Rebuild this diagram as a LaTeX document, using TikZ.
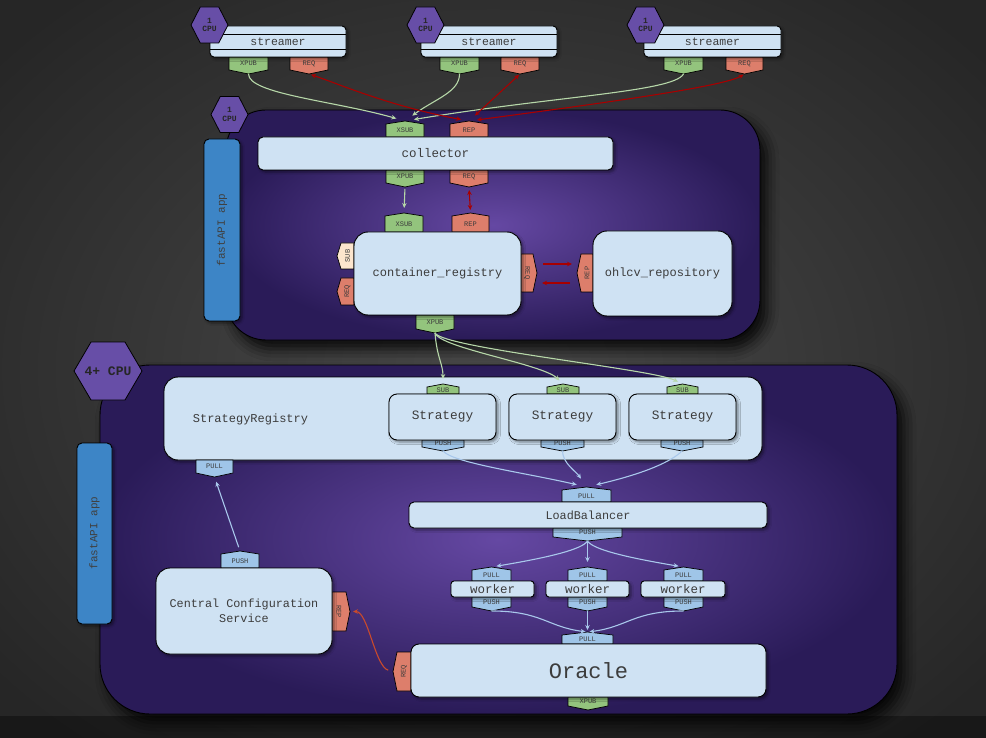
\documentclass[tikz,border=0pt]{standalone}
\usepackage{fontspec}
\newfontfamily\mono{Liberation Mono}
\usetikzlibrary{arrows.meta,shadows.blur}
\definecolor{bgIn}{HTML}{4A4A4A}
\definecolor{bgOut}{HTML}{262626}
\definecolor{panIn}{HTML}{6548A3}
\definecolor{panOut}{HTML}{2A1B58}
\definecolor{boxfill}{HTML}{CFE2F3}
\definecolor{txtgray}{HTML}{3C3C3C}
\definecolor{tgreen}{HTML}{93C47D}
\definecolor{tred}{HTML}{DD7E6B}
\definecolor{tblue}{HTML}{9FC5E8}
\definecolor{tpeach}{HTML}{FCE5CD}
\definecolor{hexfill}{HTML}{674EA7}
\definecolor{apiblue}{HTML}{3D85C6}
\definecolor{lgreen}{HTML}{B6D7A8}
\definecolor{lblue}{HTML}{A9C8EC}
\definecolor{lred}{HTML}{A80000}
\definecolor{lorange}{HTML}{C94A2C}
\tikzset{
  tabline/.style={draw=black, line width=0.7pt},
  tabtext/.style={font=\mono\fontsize{7}{7}\selectfont, text=txtgray, inner sep=0pt},
  box/.style={draw=black, line width=0.9pt, fill=boxfill, inner sep=0pt, align=center,
    text=txtgray, font=\mono\fontsize{12}{15}\selectfont,
    blur shadow={shadow xshift=2pt,shadow yshift=-2pt,shadow blur radius=2.5pt,shadow opacity=45}},
  panel/.style={draw=black, line width=0.9pt, inner color=panIn, outer color=panOut,
    blur shadow={shadow xshift=7pt,shadow yshift=-9pt,shadow blur radius=12pt,shadow opacity=85}},
  hexshape/.style={draw=black, line width=0.8pt, fill=hexfill},
  hextext/.style={font=\mono\bfseries\fontsize{8}{8.5}\selectfont, text=black!85, align=center, inner sep=0pt},
  apibar/.style={draw=black, line width=0.9pt, fill=apiblue, rounded corners=5pt,
    blur shadow={shadow xshift=2pt,shadow yshift=-2pt,shadow blur radius=2.5pt,shadow opacity=45}},
  apitext/.style={font=\mono\fontsize{11}{11}\selectfont, text=black!75, rotate=90, inner sep=0pt},
  tipA/.style={-{Stealth[length=5pt,width=4.5pt]}},
  tipB/.style={{Stealth[length=5pt,width=4.5pt]}-{Stealth[length=5pt,width=4.5pt]}},
  gline/.style={draw=lgreen, line width=1.1pt, tipA},
  bline/.style={draw=lblue, line width=1.1pt, tipA},
  rline/.style={draw=lred, line width=1.1pt, tipB},
  rone/.style={draw=lred, line width=1.1pt, tipA},
  oline/.style={draw=lorange, line width=1.1pt, tipA},
}
% tab pointing down: name, xl, xr, ytop, ytip, colour, label
\newcommand\tabdn[7]{%
  \filldraw[tabline, fill=#6] (#2,#4) -- (#3,#4) -- (#3,{#5-4}) -- ({(#2+#3)/2},#5) -- (#2,{#5-4}) -- cycle;
  \node[tabtext] (#1) at ({(#2+#3)/2},{(#4+#5-4)/2}) {#7};
  \coordinate (#1-tip) at ({(#2+#3)/2},#5);}
% tab pointing up: name, xl, xr, ytip, ybottom, colour, label
\newcommand\tabup[7]{%
  \filldraw[tabline, fill=#6] (#2,#5) -- (#2,{#4+3}) -- ({(#2+#3)/2},#4) -- (#3,{#4+3}) -- (#3,#5) -- cycle;
  \node[tabtext] (#1) at ({(#2+#3)/2},{(#4+3+#5)/2}) {#7};
  \coordinate (#1-tip) at ({(#2+#3)/2},#4);}
% tab pointing left: name, xtip, xright, ytop, ybottom, colour, label
\newcommand\tablf[7]{%
  \filldraw[tabline, fill=#6] (#3,#4) -- ({#2+4},#4) -- (#2,{(#4+#5)/2}) -- ({#2+4},#5) -- (#3,#5) -- cycle;
  \node[tabtext, rotate=90] (#1) at ({(#2+4+#3)/2},{(#4+#5)/2}) {#7};
  \coordinate (#1-tip) at (#2,{(#4+#5)/2});}
% tab pointing right: name, xleft, xtip, ytop, ybottom, colour, label
\newcommand\tabrt[7]{%
  \filldraw[tabline, fill=#6] (#2,#4) -- ({#3-4},#4) -- (#3,{(#4+#5)/2}) -- ({#3-4},#5) -- (#2,#5) -- cycle;
  \node[tabtext, rotate=-90] (#1) at ({(#2+#3-4)/2},{(#4+#5)/2}) {#7};
  \coordinate (#1-tip) at (#3,{(#4+#5)/2});}
% box: name, x1, y1, x2, y2, options, text
\newcommand\bx[7]{%
  \node[box, #6, minimum width={(#4-#2)*1pt}, minimum height={(#5-#3)*1pt}] (#1) at ({(#2+#4)/2},{(#3+#5)/2}) {#7};}
% hexagon: name, cx, cy, w, h, text, extra text options
\newcommand\hexa[7]{%
  \filldraw[hexshape] ({#2-#4/2},#3) -- ({#2-#4/4},{#3-#5/2}) -- ({#2+#4/4},{#3-#5/2}) -- ({#2+#4/2},#3) -- ({#2+#4/4},{#3+#5/2}) -- ({#2-#4/4},{#3+#5/2}) -- cycle;
  \node[hextext, #7] (#1) at (#2,#3) {#6};}
\begin{document}
\begin{tikzpicture}[x=1pt,y=-1pt]
\useasboundingbox (0,0) rectangle (986,738);
\shade[inner color=bgIn, outer color=bgOut] (-150,-120) rectangle (1136,858);
\fill[black, opacity=0.35] (0,716) rectangle (986,738);

% ---------- panels ----------
\path[panel, rounded corners=40pt] (226,110) rectangle (760,340);
\path[panel, rounded corners=50pt] (100,365) rectangle (897,714);

% ---------- streamers ----------
\tabdn{s1x}{229}{268}{57}{74}{tgreen}{XPUB}
\tabdn{s1r}{290}{328}{57}{74}{tred}{REQ}
\tabdn{s2x}{440}{479}{57}{74}{tgreen}{XPUB}
\tabdn{s2r}{501}{539}{57}{74}{tred}{REQ}
\tabdn{s3x}{664}{703}{57}{74}{tgreen}{XPUB}
\tabdn{s3r}{726}{763}{57}{74}{tred}{REQ}
\bx{s1}{210}{26}{346}{57}{rounded corners=4pt, font=\mono\fontsize{11.5}{12}\selectfont}{streamer}
\bx{s2}{421}{26}{557}{57}{rounded corners=4pt, font=\mono\fontsize{11.5}{12}\selectfont}{streamer}
\bx{s3}{644}{26}{781}{57}{rounded corners=4pt, font=\mono\fontsize{11.5}{12}\selectfont}{streamer}
\foreach \n in {s1,s2,s3}{
  \draw[line width=0.9pt] (\n.west |- 0,34) -- (\n.east |- 0,34);
  \draw[line width=0.9pt] (\n.west |- 0,49) -- (\n.east |- 0,49);
}
\hexa{h1}{209.5}{25}{37}{36}{1\\CPU}{}
\hexa{h2}{425.5}{25}{37}{36}{1\\CPU}{}
\hexa{h3}{645.5}{25}{37}{36}{1\\CPU}{}

% ---------- upper service ----------
\hexa{h4}{229.5}{114.5}{37}{36}{1\\CPU}{}
\path[apibar] (204,139) rectangle (240,321);
\node[apitext] (api1) at (222,230) {fastAPI app};

\tabup{cxs}{386}{424}{121}{137}{tgreen}{XSUB}
\tabup{crp}{450}{488}{121}{137}{tred}{REP}
\tabdn{cxp}{386}{424}{170}{187}{tgreen}{XPUB}
\tabdn{crq}{450}{488}{170}{187}{tred}{REQ}
\bx{col}{258}{137}{613}{170}{rounded corners=5pt, font=\mono\fontsize{12.5}{13}\selectfont}{collector}

\tabup{rxs}{385}{423}{213}{232}{tgreen}{XSUB}
\tabup{rrp}{452}{489}{213}{232}{tred}{REP}
\tablf{rsub}{337}{354}{243}{269}{tpeach}{SUB}
\tablf{rreqL}{337}{354}{278}{305}{tred}{REQ}
\tabrt{rreqR}{521}{537}{254}{292}{tred}{REQ}
\tabdn{rxp}{416}{454}{315}{333}{tgreen}{XPUB}
\bx{reg}{354}{232}{521}{315}{rounded corners=14pt}{container\_registry}

\tablf{orep}{577}{593}{254}{292}{tred}{REP}
\bx{ohlcv}{593}{231}{732}{316}{rounded corners=14pt}{ohlcv\_repository}

% ---------- lower service ----------
\path[apibar] (77,443) rectangle (112,624);
\node[apitext] (api2) at (94.5,533) {fastAPI app};

\bx{sreg}{164}{377}{762}{460}{rounded corners=14pt}{}
\node[font=\mono\fontsize{12}{12}\selectfont, text=txtgray, inner sep=0pt] (sregt) at (250.5,419) {StrategyRegistry};
\tabdn{spull}{196}{233}{460}{477}{tblue}{PULL}

\tabup{sub1}{427}{459}{384}{394}{tgreen}{SUB}
\tabup{sub2}{547}{579}{384}{394}{tgreen}{SUB}
\tabup{sub3}{667}{698}{384}{394}{tgreen}{SUB}
\tabdn{sp1}{422}{464}{440}{451}{tblue}{PUSH}
\tabdn{sp2}{541}{584}{440}{451}{tblue}{PUSH}
\tabdn{sp3}{661}{703}{440}{451}{tblue}{PUSH}
\bx{st1}{389}{394}{496}{440}{rounded corners=8pt, font=\mono\fontsize{12.8}{13}\selectfont}{Strategy}
\bx{st2}{509}{394}{616}{440}{rounded corners=8pt, font=\mono\fontsize{12.8}{13}\selectfont}{Strategy}
\bx{st3}{629}{394}{736}{440}{rounded corners=8pt, font=\mono\fontsize{12.8}{13}\selectfont}{Strategy}

\tabup{lpull}{562}{611}{487}{502}{tblue}{PULL}
\tabdn{lpush}{553}{622}{528}{541}{tblue}{PUSH}
\bx{lb}{409}{502}{767}{528}{rounded corners=5pt, font=\mono\fontsize{11.8}{12}\selectfont}{LoadBalancer}

\tabup{wl1}{472}{511}{567}{581}{tblue}{PULL}
\tabup{wl2}{568}{607}{567}{581}{tblue}{PULL}
\tabup{wl3}{664}{703}{567}{581}{tblue}{PULL}
\tabdn{wp1}{472}{511}{597}{611}{tblue}{PUSH}
\tabdn{wp2}{568}{607}{597}{611}{tblue}{PUSH}
\tabdn{wp3}{664}{703}{597}{611}{tblue}{PUSH}
\bx{w1}{451}{581}{534}{597}{rounded corners=3pt, font=\mono\fontsize{12.5}{13}\selectfont}{worker}
\bx{w2}{546}{581}{629}{597}{rounded corners=3pt, font=\mono\fontsize{12.5}{13}\selectfont}{worker}
\bx{w3}{641}{581}{725}{597}{rounded corners=3pt, font=\mono\fontsize{12.5}{13}\selectfont}{worker}

\tabup{opull}{562}{613}{632}{644}{tblue}{PULL}
\tabdn{oxp}{568}{608}{697}{710}{tgreen}{XPUB}
\tablf{oreq}{393}{411}{652}{691}{tred}{REQ}
\bx{orc}{411}{644}{766}{697}{rounded corners=8pt, font=\mono\fontsize{22}{22}\selectfont}{Oracle}

\tabup{cpush}{221}{259}{551}{568}{tblue}{PUSH}
\tabrt{crep}{332}{350}{592}{631}{tred}{REP}
\bx{ccs}{156}{568}{332}{654}{rounded corners=14pt, font=\mono\fontsize{11.8}{14.5}\selectfont}{Central Configuration\\Service}

\hexa{h5}{108}{371}{68}{58}{4+ CPU}{font=\mono\bfseries\fontsize{13}{13}\selectfont}

% ---------- connectors ----------
\draw[gline, shorten >=9pt] (s1x-tip) .. controls +(0,20) and +(-70,-20) .. (cxs-tip);
\draw[gline, shorten >=9pt] (s2x-tip) .. controls +(0,18) and +(30,-22) .. (cxs-tip);
\draw[gline, shorten >=9pt] (s3x-tip) .. controls +(-10,18) and +(150,-25) .. (cxs-tip);
\draw[rline, shorten <=2pt, shorten >=8pt] (s1r-tip) .. controls +(30,10) and +(-80,-15) .. (crp-tip);
\draw[rline, shorten <=1pt, shorten >=8pt] (s2r-tip) -- (crp-tip);
\draw[rline, shorten <=1pt, shorten >=8pt] (s3r-tip) .. controls +(-20,12) and +(150,-20) .. (crp-tip);

\draw[gline, shorten <=2pt, shorten >=5pt] (cxp-tip) -- (rxs-tip);
\draw[rline, shorten <=3pt, shorten >=3pt] (crq-tip) -- (rrp-tip);
\draw[rone] ([xshift=6pt,yshift=9pt]rreqR-tip) -- ([xshift=-5pt,yshift=9pt]orep-tip);
\draw[rone] ([xshift=-7pt,yshift=-10pt]orep-tip) -- ([xshift=5pt,yshift=-10pt]rreqR-tip);

\draw[gline, shorten >=5pt] (rxp-tip) .. controls +(2,25) and +(0,-20) .. (sub1-tip);
\draw[gline, shorten >=5pt] (rxp-tip) .. controls +(5,15) and +(-20,-20) .. (sub2-tip);
\draw[gline, shorten >=5pt] (rxp-tip) .. controls +(8,15) and +(-30,-15) .. (sub3-tip);

\draw[bline, shorten >=10pt] (sp1-tip) .. controls +(10,12) and +(-60,-14) .. (lpull-tip);
\draw[bline, shorten >=10pt] (sp2-tip) .. controls +(0,12) and +(-10,-15) .. (lpull-tip);
\draw[bline, shorten >=10pt] (sp3-tip) .. controls +(-10,10) and +(60,-14) .. (lpull-tip);

\draw[bline, shorten >=5pt] (lpush-tip) .. controls +(-5,8) and +(60,-10) .. (wl1-tip);
\draw[bline, shorten >=5pt] (lpush-tip) -- (wl2-tip);
\draw[bline, shorten >=5pt] (lpush-tip) .. controls +(5,8) and +(-60,-10) .. (wl3-tip);

\draw[bline, shorten >=2pt] (wp1-tip) .. controls +(50,0) and +(-40,-5) .. (opull-tip);
\draw[bline, shorten >=2pt] (wp2-tip) -- (opull-tip);
\draw[bline, shorten >=2pt] (wp3-tip) .. controls +(-50,0) and +(40,-5) .. (opull-tip);

\draw[bline, shorten <=4pt, shorten >=5pt] (cpush-tip) -- (spull-tip);
\draw[oline, shorten <=5pt, shorten >=3pt] (oreq-tip) .. controls +(-18,-5) and +(18,0) .. (crep-tip);
\end{tikzpicture}
\end{document}
